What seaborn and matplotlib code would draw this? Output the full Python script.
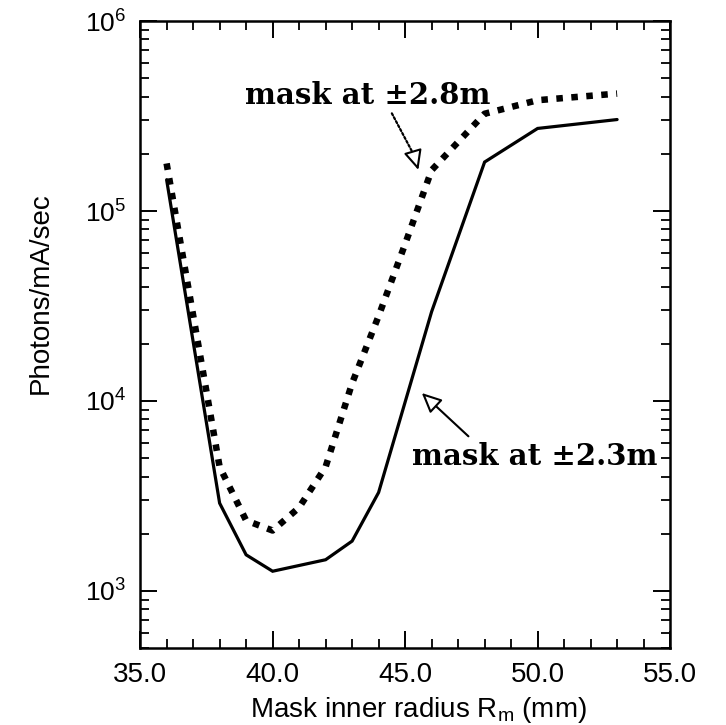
"""
Photon flux versus mask inner radius, two mask positions.
"""

import numpy as np
import pandas as pd
import matplotlib
matplotlib.use("Agg")
import matplotlib.pyplot as plt
from matplotlib import ticker
import seaborn as sns

# data
radius_23 = [36, 38, 39, 40, 42, 43, 44, 46, 48, 50, 53]
flux_23 = [146000, 2900, 1550, 1270, 1460, 1830, 3300, 29500, 181000, 272000, 303000]

radius_28 = [36, 38, 39, 40, 41, 42, 43, 44, 45, 46, 48, 50, 53]
flux_28 = [178000, 4500, 2350, 2080, 2750, 4500, 12400, 28000, 67000, 164000,
           325000, 383000, 415000]

x_ticks = [35.0, 40.0, 45.0, 50.0, 55.0]
label_23 = "mask at \u00b12.3m"
label_28 = "mask at \u00b12.8m"

sns.set_style("ticks")
plt.rcParams["font.family"] = ["Liberation Sans", "DejaVu Sans"]
plt.rcParams["mathtext.fontset"] = "custom"
plt.rcParams["mathtext.rm"] = "Liberation Sans"
plt.rcParams["mathtext.it"] = "Liberation Sans:italic"
for key in ["text.color", "axes.labelcolor", "xtick.color", "ytick.color",
            "axes.edgecolor"]:
    plt.rcParams[key] = "black"


def main():
    fig = plt.figure(figsize=(7.26, 7.25), dpi=100)
    ax = fig.add_axes([0.193, 0.106, 0.730, 0.865])

    df23 = pd.DataFrame({"r": radius_23, "flux": flux_23})
    df28 = pd.DataFrame({"r": radius_28, "flux": flux_28})

    sns.lineplot(data=df23, x="r", y="flux", ax=ax, color="black", lw=2.3,
                 solid_joinstyle="miter")
    sns.lineplot(data=df28, x="r", y="flux", ax=ax, color="black", lw=4.7,
                 linestyle=(0, (1, 1.3)), dash_capstyle="butt")

    ax.set_yscale("log")
    ax.set_xlim(35, 55)
    ax.set_ylim(500, 1e6)

    ax.set_xticks(x_ticks)
    ax.xaxis.set_major_formatter(ticker.FormatStrFormatter("%.1f"))
    ax.xaxis.set_minor_locator(ticker.MultipleLocator(1))
    ax.yaxis.set_major_locator(ticker.LogLocator(base=10))
    ax.yaxis.set_minor_locator(ticker.LogLocator(base=10, subs=np.arange(2, 10)))
    ax.yaxis.set_minor_formatter(ticker.NullFormatter())

    ax.tick_params(which="both", direction="in", top=True, right=True,
                   color="black")
    ax.tick_params(which="major", length=12, width=1.4, pad=10)
    ax.tick_params(axis="x", which="major", labelsize=20)
    ax.tick_params(axis="y", which="major", labelsize=19)
    ax.tick_params(which="minor", length=6.5, width=1.3)
    for sp in ax.spines.values():
        sp.set_linewidth(1.8)

    ax.set_xlabel("Mask inner radius R$_{\\mathregular{m}}$ (mm)", fontsize=20)
    ax.set_ylabel("Photons/mA/sec", fontsize=20)
    ax.xaxis.set_label_coords(0.525, -0.074)
    ax.yaxis.set_label_coords(-0.163, 0.566)

    ann_font = dict(family="DejaVu Serif", weight="bold", size=21)
    head = "-|>,head_length=0.6,head_width=0.28"

    # upper label with dotted arrow
    ax.text(43.6, 10 ** 5.562, label_28, ha="center", va="baseline", **ann_font)
    ax.annotate("", xy=(45.35, 10 ** 5.29), xytext=(44.5, 10 ** 5.514),
                arrowprops=dict(arrowstyle="-", linestyle=(0, (1, 1)), lw=1.6,
                                color="black", shrinkA=0, shrinkB=0))
    ax.annotate("", xy=(45.5, 10 ** 5.216), xytext=(45.3, 10 ** 5.31),
                arrowprops=dict(arrowstyle=head, mutation_scale=20, lw=1.5,
                                ec="black", fc="white", shrinkA=0, shrinkB=0))

    # lower label with solid arrow
    ax.text(49.9, 10 ** 3.665, label_23, ha="center", va="baseline", **ann_font)
    ax.annotate("", xy=(45.63, 10 ** 4.042), xytext=(47.39, 10 ** 3.814),
                arrowprops=dict(arrowstyle=head, mutation_scale=20, lw=1.5,
                                ec="black", fc="white", shrinkA=0, shrinkB=0))

    fig.savefig("out.png", dpi=100)


if __name__ == "__main__":
    main()
